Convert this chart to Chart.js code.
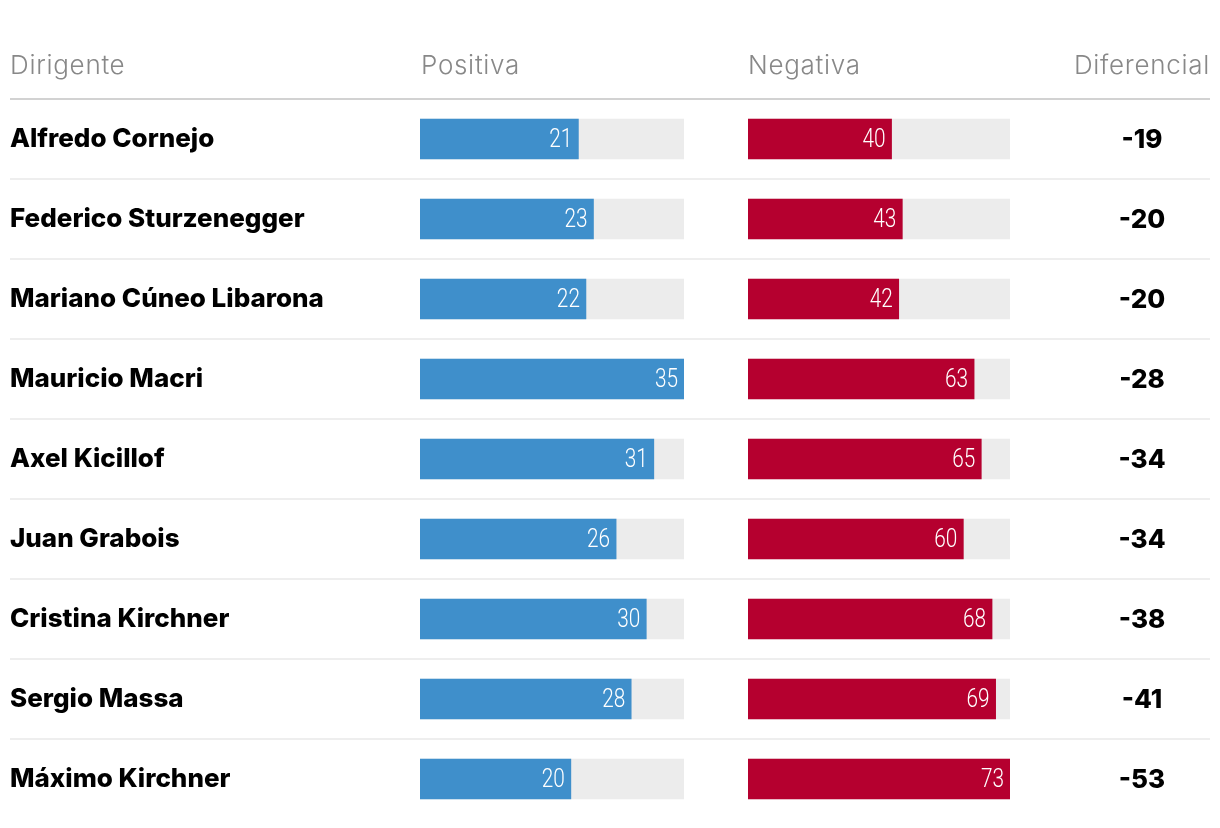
<!DOCTYPE html>
<html><head><meta charset="utf-8">
<script src="https://cdn.jsdelivr.net/npm/chart.js@4/dist/chart.umd.min.js"></script>
<style>
html,body{margin:0;padding:0;background:#fff;}
#wrap{position:relative;width:1220px;height:828px;overflow:hidden;}
#c{position:absolute;left:0;top:0;}
.h{position:absolute;top:52px;font-family:Inter,sans-serif;font-weight:300;font-size:26px;line-height:26px;letter-spacing:0.7px;color:#888888;white-space:nowrap;}
</style></head><body>
<div id="wrap">
<canvas id="c" width="1220" height="860"></canvas>
<div class="h" id="h0" style="left:10px"></div>
<div class="h" id="h1" style="left:421px"></div>
<div class="h" id="h2" style="left:748px"></div>
<div class="h" id="h3" style="right:10px"></div>
</div>
<script>
const encabezados = ['Dirigente', 'Positiva', 'Negativa', 'Diferencial'];
const dirigentes = ['Alfredo Cornejo', 'Federico Sturzenegger', 'Mariano Cúneo Libarona', 'Mauricio Macri', 'Axel Kicillof', 'Juan Grabois', 'Cristina Kirchner', 'Sergio Massa', 'Máximo Kirchner'];
const positiva = [21, 23, 22, 35, 31, 26, 30, 28, 20];
const negativa = [40, 43, 42, 63, 65, 60, 68, 69, 73];
const diferencial = [-19, -20, -20, -28, -34, -34, -38, -41, -53];
const maxPositiva = 35;
const maxNegativa = 73;

encabezados.forEach((t, i) => { document.getElementById('h' + i).textContent = t; });

const labelsPlugin = {
  id: 'labelsPlugin',
  afterDatasetsDraw(chart) {
    const ctx = chart.ctx;
    [0, 2].forEach(di => {
      const meta = chart.getDatasetMeta(di);
      meta.data.forEach((bar, i) => {
        const v = chart.data.datasets[di].data[i];
        ctx.save();
        ctx.fillStyle = '#ffffff';
        ctx.font = '300 26px Roboto';
        ctx.textAlign = 'right';
        ctx.textBaseline = 'middle';
        ctx.translate(bar.x - 6, bar.y + 1);
        ctx.scale(0.8, 1);
        ctx.fillText(String(v), 0, 0);
        ctx.restore();
      });
    });
    const ys = chart.scales.y;
    const xd = chart.scales.xDif;
    diferencial.forEach((d, i) => {
      ctx.save();
      ctx.fillStyle = '#000000';
      ctx.font = '800 26px Inter';
      ctx.textAlign = 'center';
      ctx.textBaseline = 'middle';
      ctx.fillText(String(d), xd.getPixelForValue(0.66), ys.getPixelForValue(i) + 1);
      ctx.restore();
    });
  }
};

new Chart(document.getElementById('c'), {
  type: 'bar',
  data: {
    labels: dirigentes,
    datasets: [
      { data: positiva, xAxisID: 'xPos', backgroundColor: '#3f8fcb', order: 1 },
      { data: positiva.map(() => maxPositiva), xAxisID: 'xPos', backgroundColor: '#ececec', order: 2 },
      { data: negativa, xAxisID: 'xNeg', backgroundColor: '#b5002f', order: 1 },
      { data: negativa.map(() => maxNegativa), xAxisID: 'xNeg', backgroundColor: '#ececec', order: 2 }
    ]
  },
  options: {
    indexAxis: 'y',
    responsive: false,
    animation: false,
    devicePixelRatio: 1,
    layout: { padding: { left: 10, right: 10, top: 99, bottom: 41 } },
    datasets: { bar: { grouped: false, barThickness: 40, borderWidth: 0 } },
    plugins: { legend: { display: false }, tooltip: { enabled: false } },
    scales: {
      y: {
        type: 'category',
        position: 'left',
        offset: true,
        border: { display: false },
        grid: {
          offset: true,
          drawTicks: true,
          tickLength: 410,
          color: c => c.index === 0 ? '#d2d2d2' : (typeof c.index === 'number' ? '#eeeeee' : 'rgba(0,0,0,0)'),
          lineWidth: 2
        },
        ticks: {
          crossAlign: 'far',
          padding: 0,
          color: '#000000',
          font: { family: 'Inter', weight: '800', size: 26 }
        },
        afterFit(s) { s.width = 410; }
      },
      xPos: { type: 'linear', position: 'bottom', stack: 'cols', stackWeight: 264, min: 0, max: maxPositiva, display: false },
      xGap: { type: 'linear', position: 'bottom', stack: 'cols', stackWeight: 64, min: 0, max: 1, display: false },
      xNeg: { type: 'linear', position: 'bottom', stack: 'cols', stackWeight: 262, min: 0, max: maxNegativa, display: false },
      xDif: { type: 'linear', position: 'bottom', stack: 'cols', stackWeight: 200, min: 0, max: 1, display: false }
    }
  },
  plugins: [labelsPlugin]
});
</script>
</body></html>
